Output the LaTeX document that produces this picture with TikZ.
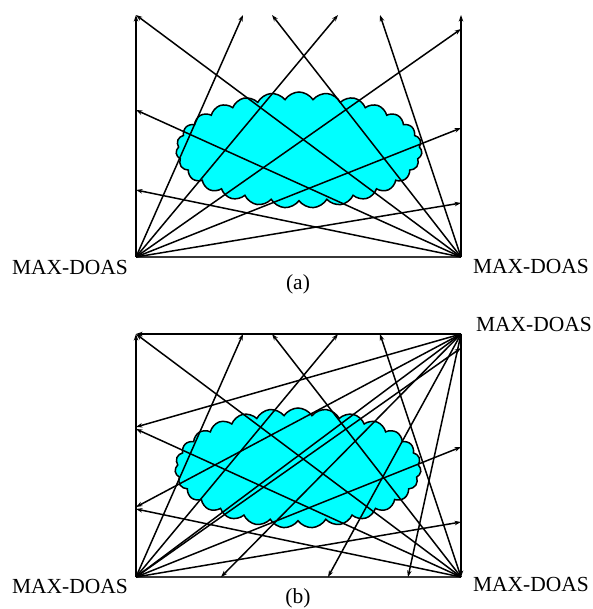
\documentclass[tikz,border=0pt]{standalone}
\usepackage{fontspec}
\setmainfont{Liberation Serif}
\usetikzlibrary{shapes.symbols,arrows.meta}
\definecolor{cloudfill}{RGB}{0,255,255}
\definecolor{edgegray}{RGB}{55,55,55}
\begin{document}
\begin{tikzpicture}[x=1pt,y=-1pt,
  ray/.style={-{Stealth[length=6.5pt,width=4.5pt]}, line width=1.5pt, black},
  edge/.style={line width=2.4pt, edgegray},
  cloudshape/.style={cloud, cloud puffs=27, cloud puff arc=115, aspect=2.1,
    draw=black, fill=cloudfill, line width=1.5pt, inner sep=0pt,
    minimum width=246pt, minimum height=116pt},
  lbl/.style={font=\fontsize{21.5}{24}\selectfont, inner sep=0pt}]
\useasboundingbox (0,0) rectangle (592,609);

% ---------------- panel (a) ----------------
\node[cloudshape] (cloudA) at (299,150) {};
\coordinate (BLa) at (136,257);
\coordinate (BRa) at (461,257);
\coordinate (a1) at (136,15);
\coordinate (a2) at (243,15);
\coordinate (a3) at (272,15);
\coordinate (a4) at (338,15);
\coordinate (a5) at (380,15);
\coordinate (a6) at (461,15);
\coordinate (a7) at (461,29);
\coordinate (a8) at (461,128);
\coordinate (a9) at (461,203);
\coordinate (a10) at (136,110);
\coordinate (a11) at (136,190);

\draw[edge] (BLa) -- (BRa);
\draw[ray, line width=1.8pt] (BLa) -- (a1);
\draw[ray, line width=2.6pt] (BRa) -- (a6);
\foreach \e in {a2,a4,a7,a8,a9} \draw[ray] (BLa) -- (\e);
\foreach \e in {a1,a3,a5,a10,a11} \draw[ray] (BRa) -- (\e);

\node[lbl] (labAL) at (70,267) {MAX-DOAS};
\node[lbl] (labAR) at (531,266) {MAX-DOAS};
\node[lbl] (labA) at (298,284) {(a)};

% ---------------- panel (b) ----------------
\node[cloudshape, minimum height=120pt] (cloudB) at (298,468) {};
\coordinate (BLb) at (136,577);
\coordinate (BRb) at (461,577);
\coordinate (TRb) at (461,334);
\coordinate (b1) at (136,334);
\coordinate (b2) at (243,334);
\coordinate (b3) at (272,334);
\coordinate (b4) at (338,334);
\coordinate (b5) at (380,334);
\coordinate (b7) at (461,348);
\coordinate (b8) at (461,447);
\coordinate (b9) at (461,522);
\coordinate (b10) at (136,429);
\coordinate (b11) at (136,509);
\coordinate (c1) at (136,427);
\coordinate (c2) at (136,507);
\coordinate (c3) at (221,577);
\coordinate (c4) at (328,577);
\coordinate (c5) at (408,577);

\draw[edge] (BLb) -- (BRb);
\draw[ray, line width=2.6pt] (TRb) -- (BRb);
\draw[ray, line width=2pt] (TRb) -- (b1);
\draw[ray, line width=1.8pt] (BLb) -- (b1);
\foreach \e in {b2,b4,b7,b8,b9} \draw[ray] (BLb) -- (\e);
\foreach \e in {b1,b3,b5,b10,b11} \draw[ray] (BRb) -- (\e);
\foreach \e in {c1,c2,BLb,c3,c4,c5} \draw[ray] (TRb) -- (\e);

\node[lbl] (labBT) at (534,324) {MAX-DOAS};
\node[lbl] (labBL) at (70,586) {MAX-DOAS};
\node[lbl] (labBR) at (531,584) {MAX-DOAS};
\node[lbl] (labB) at (298,598) {(b)};
\end{tikzpicture}
\end{document}
